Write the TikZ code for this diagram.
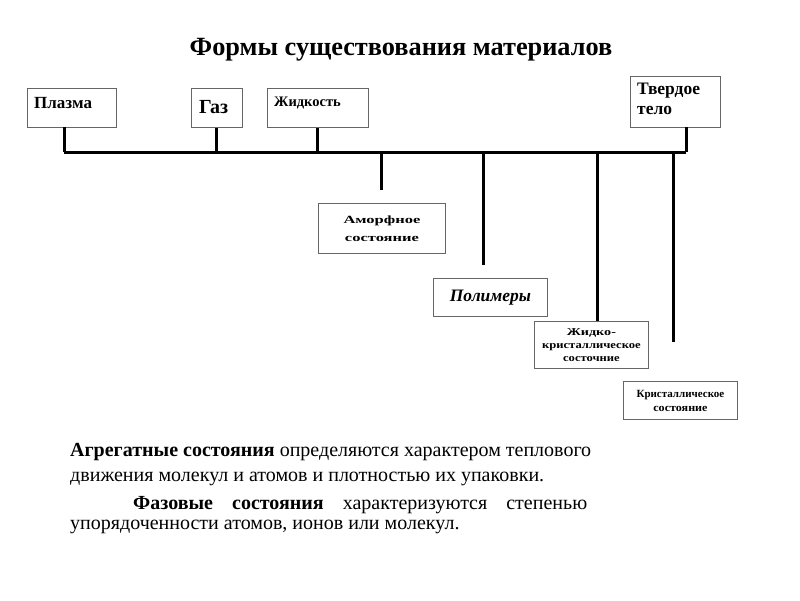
\documentclass[tikz,border=0pt]{standalone}
\usepackage{fontspec}
\setmainfont{Liberation Serif}
\begin{document}
\begin{tikzpicture}[x=1pt,y=-1pt,
  box/.style={draw=black!60, line width=0.9pt, fill=white, anchor=north west, inner sep=0pt},
  bus/.style={line width=3pt},
  lbl/.style={inner sep=0pt, font=\bfseries},
  body/.style={anchor=base west, inner sep=0pt, font=\fontsize{20}{24}\selectfont}]
\useasboundingbox (0,0) rectangle (800,600);
% title
\node[lbl, anchor=base, font=\bfseries\fontsize{26.3}{30}\selectfont] (title) at (401,55) {Формы существования материалов};
% top boxes
\node[box, minimum width=89, minimum height=39] (plasma) at (27,88) {};
\node[lbl, anchor=west, font=\bfseries\fontsize{17}{19}\selectfont] (tplasma) at (34,103) {Плазма};
\node[box, minimum width=51, minimum height=39] (gas) at (191,88) {};
\node[lbl, anchor=west, font=\bfseries\fontsize{20}{22}\selectfont] (tgas) at (199,107) {Газ};
\node[box, minimum width=101, minimum height=39] (liq) at (267,88) {};
\node[lbl, anchor=west, font=\bfseries\fontsize{14.5}{16}\selectfont] (tliq) at (274,103) {Жидкость};
\node[box, minimum width=90, minimum height=51] (solid) at (630,76) {};
\node[lbl, anchor=north west, align=left, font=\bfseries\fontsize{17.5}{20}\selectfont] (tsolid) at (637,83) {Твердое\\тело};
% bottom boxes
\node[box, minimum width=127, minimum height=50] (amorph) at (318,203) {};
\node[lbl, align=center, font=\bfseries\fontsize{11}{18}\selectfont] (tamorph) at (amorph.center) {\scalebox{1.5}[1]{Аморфное}\\\scalebox{1.5}[1]{состояние}};
\node[box, minimum width=114, minimum height=38] (poly) at (433,278) {};
\node[lbl, font=\bfseries\itshape\fontsize{17.5}{20}\selectfont] (tpoly) at (poly.center) {Полимеры};
\node[box, minimum width=114, minimum height=47] (lc) at (534,321) {};
\node[lbl, align=center, font=\bfseries\fontsize{10.5}{13}\selectfont] (tlc) at (lc.center) {\scalebox{1.35}[1]{Жидко-}\\\scalebox{1.2}[1]{кристаллическое}\\\scalebox{1.2}[1]{состочние}};
\node[box, minimum width=114, minimum height=38] (cryst) at (623,381) {};
\node[lbl, align=center, font=\bfseries\fontsize{11}{14}\selectfont] (tcryst) at (cryst.center) {Кристаллическое\\\scalebox{1.1}[1]{состояние}};
% bus
\coordinate (bL) at (64,152);
\coordinate (bR) at (686,152);
\coordinate (pl) at (64,127);
\coordinate (sl) at (686,127);
\coordinate (a1) at (381,152); \coordinate (a2) at (381,190);
\coordinate (p1) at (483,152); \coordinate (p2) at (483,265);
\coordinate (l1) at (597,152);
\coordinate (c1) at (673,152); \coordinate (c2) at (673,342);
\draw[bus] (bL) -- (bR);
\draw[bus] (pl) -- (bL);
\draw[bus] (gas.south) -- (gas.south |- bL);
\draw[bus] (liq.south) -- (liq.south |- bL);
\draw[bus] (sl) -- (bR);
\draw[bus] (a1) -- (a2);
\draw[bus] (p1) -- (p2);
\draw[bus] (l1) -- (l1 |- lc.north);
\draw[bus] (c1) -- (c2);
% text
\node[body] (t1) at (70,456) {\textbf{Агрегатные состояния} определяются характером теплового};
\node[body] (t2) at (70,481) {движения молекул и атомов и плотностью их упаковки.};
\node[body, text width=454] (t3) at (133,509) {\textbf{Фазовые}\hfill\textbf{состояния}\hfill характеризуются\hfill степенью};
\node[body] (t4) at (70,529) {упорядоченности атомов, ионов или молекул.};
\end{tikzpicture}
\end{document}
